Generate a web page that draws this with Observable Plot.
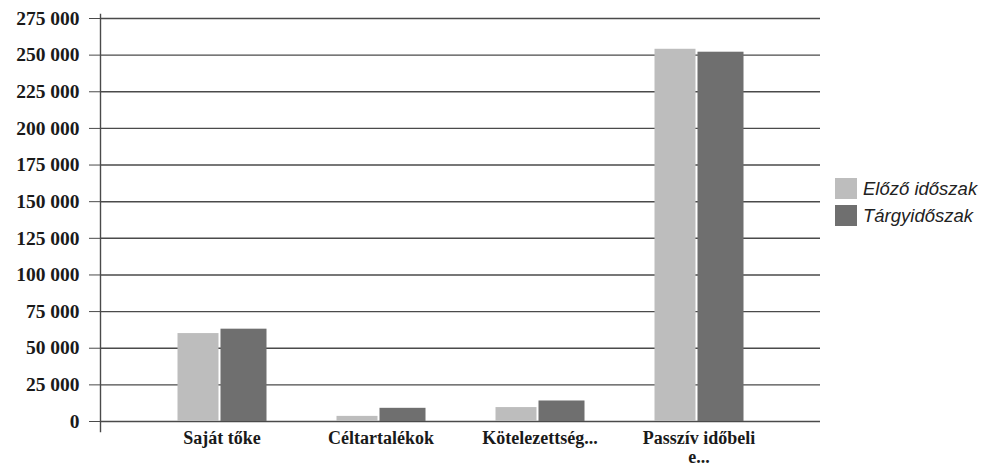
<!DOCTYPE html>
<html>
<head>
<meta charset="utf-8">
<script src="https://cdn.jsdelivr.net/npm/d3@7"></script>
<script src="https://cdn.jsdelivr.net/npm/@observablehq/plot@0.6"></script>
<style>
  html, body { margin: 0; padding: 0; background: #fff; }
  #wrap { position: relative; width: 995px; height: 472px; }
  #legend { position: absolute; left: 835px; top: 175px; font-family: "Liberation Sans", Arial, sans-serif; font-style: italic; font-size: 18.5px; color: #222; }
  .row { display: flex; align-items: center; height: 27px; }
  .sw { width: 22px; height: 21px; margin-right: 6px; }
</style>
</head>
<body>
<div id="wrap"><div id="legend"></div></div>
<script>
const categories = ["Saját tőke", "Céltartalékok", "Kötelezettség...", "Passzív időbeli e..."];
const seriesNames = ["Előző időszak", "Tárgyidőszak"];
const previous = [60000, 3500, 9500, 254000];
const current = [63000, 9000, 14000, 252000];
const yTicks = [0, 25000, 50000, 75000, 100000, 125000, 150000, 175000, 200000, 225000, 250000, 275000];
const colors = ["#bdbdbd", "#6f6f6f"];

const prevData = categories.map((c, i) => ({category: c, value: previous[i]}));
const curData = categories.map((c, i) => ({category: c, value: current[i]}));
const fmt = d => d3.format(",")(d).replace(/,/g, " ");

const step = 159;
const plot = Plot.plot({
  width: 995,
  height: 472,
  marginLeft: 100,
  marginRight: 175,
  marginTop: 18,
  marginBottom: 51,
  style: {background: "transparent"},
  x: {domain: categories, padding: 0, insetLeft: 42, insetRight: 42, axis: null},
  y: {domain: [0, 275000], axis: null},
  marks: [
    Plot.ruleY(yTicks, {stroke: "#4a4a4a", strokeWidth: 1.4}),
    Plot.frame({anchor: "left", stroke: "#4a4a4a", strokeWidth: 1.4, insetTop: -4, insetBottom: -10}),
    Plot.axisY({
      ticks: yTicks,
      tickFormat: fmt,
      tickSize: 11,
      tickPadding: 10,
      label: null,
      stroke: "#4a4a4a",
      fontSize: 19.5,
      fontWeight: "bold",
      fontFamily: "Liberation Serif, Times New Roman, serif",
      fill: "#1a1a1a"
    }),
    Plot.axisX({
      tickSize: 0,
      tickPadding: 8,
      label: null,
      tickFormat: d => d.replace("időbeli ", "időbeli\n"),
      fontSize: 18,
      fontWeight: "bold",
      fontFamily: "Liberation Serif, Times New Roman, serif",
      fill: "#1a1a1a",
      lineHeight: 1.1
    }),
    Plot.barY(prevData, {x: "category", y: "value", fill: colors[0], insetLeft: step / 2 - 44, insetRight: step / 2 + 3}),
    Plot.barY(curData, {x: "category", y: "value", fill: colors[1], insetLeft: step / 2 - 1, insetRight: step / 2 - 45})
  ]
});
document.getElementById("wrap").prepend(plot);

const legend = document.getElementById("legend");
seriesNames.forEach((n, i) => {
  const row = document.createElement("div");
  row.className = "row";
  row.innerHTML = `<div class="sw" style="background:${colors[i]}"></div><span>${n}</span>`;
  legend.appendChild(row);
});
</script>
</body>
</html>
